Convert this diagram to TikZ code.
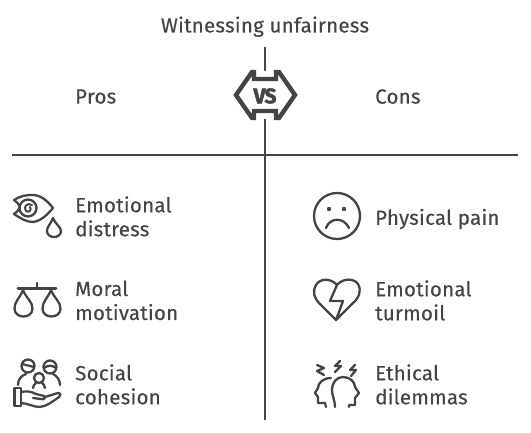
\documentclass[tikz,border=0pt]{standalone}
\usepackage{fontspec}
\setmainfont{Fira Sans}[LetterSpace=1.2,FakeBold=0.25]
\definecolor{ink}{HTML}{444444}
\tikzset{
 lbl/.style={anchor=west,align=left,text=ink,font=\fontsize{20.5}{24}\selectfont,inner sep=0pt,text depth=0pt},
 ic/.style={draw=ink,line width=2.3pt,line cap=round,line join=round},
}
\begin{document}
\begin{tikzpicture}[x=1pt,y=-1pt]
\useasboundingbox (0,0) rectangle (531,433);
\node[lbl,anchor=center] (title) at (265,24.5) {Witnessing unfairness};
\node[lbl] (pros) at (75,96.5) {Pros};
\node[lbl] (cons) at (375,96.5) {Cons};
\coordinate (vt) at (265,47); \coordinate (vb) at (265,420);
\coordinate (hl) at (12,155); \coordinate (hr) at (518,155);
\draw[ink,line width=2pt] (vt) -- (vb);
\draw[ink,line width=2.6pt] (hl) -- (hr);
% VS badge
\fill[white] (234,95)--(252,71)--(280,71)--(298,95)--(280,119)--(252,119)--cycle;
\draw[ic,line width=4.4pt,miter limit=4,line cap=butt,line join=miter]
 (236,95)--(252,72)--(254,72)--(254,79)--(276,79)--(276,72)--(279,72)--(295,95)--(279,118)--(276,118)--(276,111)--(254,111)--(254,118)--(252,118)--cycle;
\node[text=ink,font=\fontsize{21}{21}\selectfont\bfseries\addfontfeatures{LetterSpace=-3,FakeBold=2.2},inner sep=0pt] (vs) at (265,96) {VS};
% left labels
\node[lbl] (a1) at (75,216.3) {Emotional\\distress};
\node[lbl] (a2) at (75,300.3) {Moral\\motivation};
\node[lbl] (a3) at (75,384.3) {Social\\cohesion};
\node[lbl] (b1) at (375,216.8) {Physical pain};
\node[lbl] (b2) at (375,300.3) {Emotional\\turmoil};
\node[lbl] (b3) at (375,384.3) {Ethical\\dilemmas};
% eye
\draw[ic] (14,200) .. controls (22,195) and (28,195) .. (34,195) .. controls (43,196) and (49,203) .. (53,208) .. controls (47,215) and (41,221) .. (33,222) .. controls (26,222) and (20,218) .. (14,214) .. controls (17,212) and (19,210) .. (20,207) .. controls (19,204) and (17,202) .. (14,200);
\draw[ic] (28,208) circle (8.5);
\draw[ic,line width=2pt] (32,205) .. controls (27,202) and (23,207) .. (26,211) .. controls (29,213) and (32,210) .. (30,207);
\draw[ic] (53,218) .. controls (50,225) and (47,227) .. (47,231) .. controls (47,239) and (61,239) .. (61,231) .. controls (61,227) and (56,225) .. (53,218) -- cycle;
% scales
\draw[ic,line width=3pt] (18,289) -- (56,289);
\draw[ic] (37,283) -- (37,289);
\draw[ic] (23,290) .. controls (20,298) and (14,302) .. (14.5,309) .. controls (15,319) and (32,319) .. (32.5,309) .. controls (33,302) and (26,298) .. (23,290) -- cycle;
\draw[ic] (51,290) .. controls (48,298) and (42,302) .. (42.5,309) .. controls (43,319) and (60,319) .. (60.5,309) .. controls (61,302) and (54,298) .. (51,290) -- cycle;
% social
\draw[ic] (28,366) circle (6.5); \draw[ic] (50,367) circle (6.5);
\draw[ic] (22,364) -- (34,367); \draw[ic] (44,368) .. controls (48,365) and (52,365) .. (56,368);
\draw[ic] (39,378) circle (5);
\draw[ic] (18,385) .. controls (18,379) and (21,376) .. (26,374);
\draw[ic] (60,385) .. controls (60,380) and (57,376) .. (53,374);
\draw[ic] (33,388) .. controls (33,385) and (35,384) .. (36,383);
\draw[ic] (45,388) .. controls (45,385) and (43,384) .. (42,383);
\draw[ic] (14.5,388) rectangle (21,406);
\draw[ic] (21,392) .. controls (27,391) and (30,391) .. (36,394) -- (44,396) .. controls (46,398) and (44,400) .. (41,399) -- (33,398);
\draw[ic] (45,397) -- (58,393) .. controls (61,393) and (61,396) .. (59,397) .. controls (52,402) and (47,406) .. (40,407) .. controls (33,407) and (27,403) .. (21,403);
% sad face
\draw[ic] (337,216) circle (23);
\fill[ink] (329,209) circle (2.2) (344,209) circle (2.2);
\draw[ic] (326,228) .. controls (330,217) and (344,217) .. (349,228);
% broken heart
\draw[ic] (337,285) .. controls (331,278) and (320,278) .. (316,285) .. controls (312,292) and (314,298) .. (320,304) -- (336,320) -- (352,304) .. controls (359,298) and (362,291) .. (358,284) .. controls (354,278) and (343,278) .. (337,285) -- (330,301) -- (343,301) -- (336,320);
% ethical
\draw[ic] (317,365)--(324,368)--(317,371)--(324,375);
\draw[ic] (340,361)--(335,366)--(341,366)--(335,372);
\draw[ic] (355,365)--(350,370)--(356,370)--(351,376);
\draw[ic] (331,378) .. controls (323,378) and (318,383) .. (318,388) -- (315,393) -- (318,397) -- (318,403) -- (325,403) -- (326,407);
\draw[ic] (335,407) .. controls (335,400) and (332,396) .. (332,390) .. controls (332,382) and (337,377) .. (343,377) .. controls (350,377) and (355,382) .. (355,387) -- (359,393) -- (355,398) -- (355,405) -- (349,405) -- (349,407);
\end{tikzpicture}
\end{document}
